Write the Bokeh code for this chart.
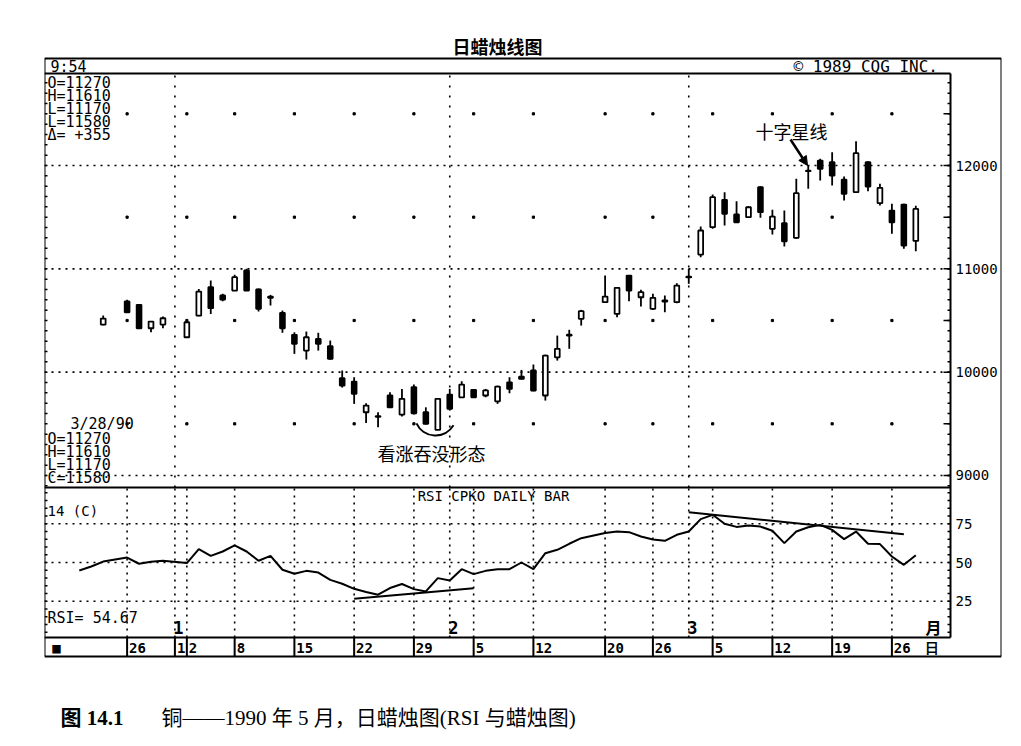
import numpy as np
from bokeh.plotting import figure
from bokeh.models import (Range1d, FixedTicker, Label, Arrow, NormalHead, ColumnDataSource)
from bokeh.embed import file_html
from bokeh.resources import INLINE

# ---------------------------------------------------------------- data
dates = [
    "1989-12-22", "1989-12-26", "1989-12-27", "1989-12-28", "1989-12-29",
    "1990-01-02", "1990-01-03", "1990-01-04", "1990-01-05",
    "1990-01-08", "1990-01-09", "1990-01-10", "1990-01-11", "1990-01-12",
    "1990-01-15", "1990-01-16", "1990-01-17", "1990-01-18", "1990-01-19",
    "1990-01-22", "1990-01-23", "1990-01-24", "1990-01-25", "1990-01-26",
    "1990-01-29", "1990-01-30", "1990-01-31", "1990-02-01", "1990-02-02",
    "1990-02-05", "1990-02-06", "1990-02-07", "1990-02-08", "1990-02-09",
    "1990-02-12", "1990-02-13", "1990-02-14", "1990-02-15", "1990-02-16",
    "1990-02-20", "1990-02-21", "1990-02-22", "1990-02-23",
    "1990-02-26", "1990-02-27", "1990-02-28", "1990-03-01", "1990-03-02",
    "1990-03-05", "1990-03-06", "1990-03-07", "1990-03-08", "1990-03-09",
    "1990-03-12", "1990-03-13", "1990-03-14", "1990-03-15", "1990-03-16",
    "1990-03-19", "1990-03-20", "1990-03-21", "1990-03-22", "1990-03-23",
    "1990-03-26", "1990-03-27", "1990-03-28",
]
opens = [
    10461, 10684, 10652, 10425, 10461,
    10338, 10548, 10822, 10742,
    10790, 10984, 10800, 10732, 10574,
    10361, 10209, 10322, 10251, 9941,
    9909, 9612, 9575, 9774, 9590,
    9854, 9612, 9442, 9783, 9757,
    9829, 9774, 9718, 9902, 9957,
    10016, 9774, 10144, 10355, 10516,
    10677, 10564, 10935, 10725,
    10613, 10682, 10677, 10918, 11138,
    11403, 11668, 11526, 11500, 11790,
    11387, 11441, 11300, 11945, 12048,
    12032, 11862, 11742, 12032, 11635,
    11564, 11622, 11270,
]
highs = [
    10548, 10700, 10660, 10495, 10538,
    10490, 10806, 10887, 10758,
    10942, 11000, 10810, 10748, 10596,
    10386, 10393, 10381, 10306, 10016,
    9951, 9699, 9612, 9806, 9838,
    9880, 9660, 9745, 9838, 9912,
    9835, 9838, 9870, 9951, 10022,
    10074, 10170, 10354, 10410, 10603,
    10935, 10820, 10940, 10797,
    10758, 10742, 10861, 11000, 11410,
    11719, 11742, 11655, 11605, 11800,
    11571, 11564, 11871, 12000, 12065,
    12129, 11894, 12235, 12042, 11823,
    11629, 11630, 11610,
]
lows = [
    10455, 10575, 10420, 10386, 10425,
    10330, 10541, 10564, 10686,
    10785, 10785, 10587, 10645, 10381,
    10177, 10122, 10209, 10120, 9851,
    9693, 9509, 9467, 9654, 9570,
    9590, 9493, 9440, 9628, 9751,
    9750, 9757, 9693, 9796, 9930,
    9815, 9725, 10112, 10226, 10451,
    10670, 10532, 10686, 10635,
    10603, 10580, 10667, 10855, 11112,
    11387, 11419, 11445, 11495, 11494,
    11332, 11216, 11290, 11774, 11855,
    11806, 11661, 11740, 11751, 11613,
    11339, 11195, 11170,
]
closes = [
    10519, 10580, 10425, 10490, 10522,
    10483, 10780, 10619, 10703,
    10919, 10790, 10613, 10720, 10425,
    10274, 10338, 10274, 10129, 9870,
    9790, 9677, 9568, 9660, 9742,
    9602, 9500, 9742, 9645, 9880,
    9757, 9823, 9861, 9838, 9935,
    9822, 10161, 10226, 10362, 10590,
    10732, 10816, 10790, 10774,
    10719, 10694, 10838, 10925, 11371,
    11693, 11532, 11451, 11596, 11548,
    11506, 11267, 11732, 11950, 11968,
    11903, 11726, 12119, 11797, 11784,
    11451, 11225, 11580,
]

rsi_dates = ["1989-12-20", "1989-12-21"] + dates
rsi_values = [
    44.8, 47.4,
    50.6, 53.2, 49.2, 50.5, 51.1,
    49.6, 58.6, 54.3, 57.1,
    61.0, 57.1, 51.1, 54.3, 45.3,
    42.7, 44.6, 43.5, 38.8, 36.3,
    33.0, 31.0, 29.2, 33.5, 36.1,
    32.8, 31.3, 39.9, 38.4, 45.7,
    42.5, 44.6, 45.7, 45.7, 50.0,
    45.7, 56.0, 58.2, 62.1, 65.7,
    69.0, 70.0, 69.6, 66.8,
    64.8, 64.0, 67.9, 70.0, 78.0,
    80.8, 75.0, 73.0, 73.9, 73.2,
    70.5, 62.5, 70.0, 72.8, 74.3,
    71.1, 65.1, 70.0, 62.1, 61.9,
    53.9, 48.5, 54.67,
]

support_dates = ["1990-01-22", "1990-02-05"]
support_values = [26.6, 33.3]
resist_dates = ["1990-03-01", "1990-03-27"]
resist_values = [82.5, 68.2]

week_dates = ["1989-12-26", "1990-01-01", "1990-01-02", "1990-01-08", "1990-01-15",
              "1990-01-22", "1990-01-29", "1990-02-05", "1990-02-12", "1990-02-20",
              "1990-02-26", "1990-03-05", "1990-03-12", "1990-03-19", "1990-03-26"]
week_labels = ["26", "1", "2", "8", "15", "22", "29", "5", "12", "20",
               "26", "5", "12", "19", "26"]
month_dates = ["1990-01-01", "1990-02-01", "1990-03-01"]
month_labels = ["1", "2", "3"]

price_labels = [9000, 10000, 11000, 12000]
price_half_levels = [9500, 10500, 11500, 12500]
rsi_labels = [25, 50, 75]

# ---------------------------------------------------------------- layout helpers (canvas px)
MONO = "DejaVu Sans Mono"
CJK = "Noto Sans CJK SC"
SERIF_CJK = "Liberation Serif, Noto Sans CJK SC"

CANVAS_W = 1008
FRAME_L, FRAME_R, FRAME_T, FRAME_B = 44, 1001, 30, 735      # bokeh frame
BOX_T, BOX_B = 58, 656                                       # printed outer box
PLOT_R, HEAD_B, DATE_T, SPLIT = 950, 73, 637, 487            # inner lines
X0_PX, DX_PX = 102.7, 11.95
P_REF, P_REF_PX, P_PX = 12000.0, 165.0, 0.103333
R_REF, R_REF_PX, R_PX = 50.0, 562.0, 1.548


def X(px):
    return (px - X0_PX) / DX_PX


def PY(py):
    return P_REF - (py - P_REF_PX) / P_PX


def RY(py):
    return R_REF - (py - R_REF_PX) / R_PX


base = np.datetime64(dates[0])


def day_x(ds):
    return np.busday_count(base, np.array(ds, dtype="datetime64[D]")).astype(float)


# ---------------------------------------------------------------- figure
p = figure(frame_width=FRAME_R - FRAME_L, frame_height=FRAME_B - FRAME_T,
           x_range=Range1d(X(FRAME_L), X(FRAME_R)),
           y_range=Range1d(PY(FRAME_B), PY(FRAME_T)), y_axis_location="right",
           output_backend="svg", toolbar_location=None,
           min_border_left=FRAME_L, min_border_right=CANVAS_W - FRAME_R,
           min_border_top=FRAME_T, min_border_bottom=0,
           background_fill_color="white", border_fill_color="white")
p.extra_y_ranges = {"rsi": Range1d(RY(FRAME_B), RY(FRAME_T))}
p.outline_line_color = None
p.xgrid.visible = False
p.ygrid.visible = False

# ---- right axis: labels only (price + RSI), drawn inside the printed box
ry_rng = p.extra_y_ranges["rsi"]


def r2p(r):
    y0, y1 = p.y_range.start, p.y_range.end
    return y0 + (r - ry_rng.start) * (y1 - y0) / (ry_rng.end - ry_rng.start)


yt = [round(float(v), 3) for v in price_labels] + [round(float(r2p(r)), 3) for r in rsi_labels]
yo = {round(float(v), 3): str(v) for v in price_labels}
yo.update({round(float(r2p(r)), 3): str(r) for r in rsi_labels})
ya = p.yaxis[0]
ya.ticker = FixedTicker(ticks=yt, minor_ticks=[])
ya.major_label_overrides = yo
ya.major_tick_in = 0
ya.major_tick_out = 0
ya.minor_tick_in = 0
ya.minor_tick_out = 0
ya.axis_line_color = None
ya.major_label_standoff = 955 - FRAME_R
ya.major_label_text_font = MONO
ya.major_label_text_font_size = "14px"
ya.major_label_text_color = "black"

# ---- date row: labels only
wx = day_x(week_dates)
label_pos = [round(float(x + (2 + len(t) * 8.4 / 2) / DX_PX), 3) for x, t in zip(wx, week_labels)]
sq_pos, ri_pos = round(X(56), 3), round(X(932), 3)
xo = {lp: t for lp, t in zip(label_pos, week_labels)}
xo[sq_pos] = "■"
xo[ri_pos] = "日"
xa = p.xaxis[0]
xa.ticker = FixedTicker(ticks=label_pos + [sq_pos, ri_pos], minor_ticks=[])
xa.major_label_overrides = xo
xa.major_tick_in = 0
xa.major_tick_out = 0
xa.minor_tick_in = 0
xa.minor_tick_out = 0
xa.axis_line_color = None
xa.major_label_standoff = 639 - FRAME_B
xa.major_label_text_font = MONO
xa.major_label_text_font_style = "bold"
xa.major_label_text_font_size = "14px"
xa.major_label_text_color = "black"

# ---- printed box and inner panel lines
hl = [(FRAME_L, FRAME_R, BOX_T), (FRAME_L, FRAME_R, BOX_B), (FRAME_L, PLOT_R, HEAD_B),
      (FRAME_L, PLOT_R, DATE_T), (FRAME_L, PLOT_R, SPLIT)]
vl = [(FRAME_L, BOX_T, BOX_B), (FRAME_R, BOX_T, BOX_B), (PLOT_R, HEAD_B, DATE_T)]
p.segment(x0=[X(a) for a, b, y in hl], y0=[PY(y) for a, b, y in hl],
          x1=[X(b) for a, b, y in hl], y1=[PY(y) for a, b, y in hl],
          line_color="black", line_width=2)
p.segment(x0=[X(x) for x, a, b in vl], y0=[PY(a) for x, a, b in vl],
          x1=[X(x) for x, a, b in vl], y1=[PY(b) for x, a, b in vl],
          line_color="black", line_width=2)

# ---- dotted grid lines
xl, xr = X(FRAME_L), X(PLOT_R)
p.segment(x0=[xl] * 4, y0=price_labels, x1=[xr] * 4, y1=price_labels,
          line_color="black", line_width=1.6, line_dash="2 5")
p.segment(x0=[xl] * 3, y0=rsi_labels, x1=[xr] * 3, y1=rsi_labels, y_range_name="rsi",
          line_color="black", line_width=1.6, line_dash="2 5")
mx = day_x(month_dates)
p.segment(x0=mx, y0=[PY(SPLIT)] * 3, x1=mx, y1=[PY(HEAD_B)] * 3,
          line_color="black", line_width=1.6, line_dash="2 8")
rsi_vx = np.concatenate([wx, day_x(["1990-02-01", "1990-03-01"])])
n = len(rsi_vx)
p.segment(x0=rsi_vx, y0=[RY(DATE_T)] * n, x1=rsi_vx, y1=[RY(SPLIT)] * n,
          y_range_name="rsi", line_color="black", line_width=1.6, line_dash="2 5")
dot_weeks = [x for x, d in zip(wx, week_dates) if d not in month_dates]
gx, gy = np.meshgrid(dot_weeks, price_half_levels)
p.scatter(gx.ravel(), gy.ravel(), marker="square", size=2.2, color="black")

# ---- date row separators
p.segment(x0=wx, y0=[PY(DATE_T)] * len(wx), x1=wx, y1=[PY(BOX_B)] * len(wx),
          line_color="black", line_width=2)

# ---- tick marks on the inner borders
pt_minor = np.arange(8900, 12900, 100)
rt_minor = np.arange(5, 100, 5)
t3, t7 = 3 / DX_PX, 7 / DX_PX
for x_edge, sgn in ((X(PLOT_R), -1), (X(FRAME_L), 1)):
    p.segment(x0=[x_edge] * len(pt_minor), y0=pt_minor,
              x1=[x_edge + sgn * t3] * len(pt_minor), y1=pt_minor,
              line_color="black", line_width=1.5)
    p.segment(x0=[x_edge] * len(rt_minor), y0=rt_minor,
              x1=[x_edge + sgn * t3] * len(rt_minor), y1=rt_minor,
              y_range_name="rsi", line_color="black", line_width=1.5)
p.segment(x0=[X(PLOT_R)] * 8, y0=price_labels + price_half_levels,
          x1=[X(PLOT_R) - t7] * 8, y1=price_labels + price_half_levels,
          line_color="black", line_width=1.5)

# ---- candles
cx = day_x(dates)
o = np.array(opens, float)
c = np.array(closes, float)
src = ColumnDataSource(dict(
    x=cx, high=highs, low=lows,
    top=np.maximum(o, c), bottom=np.minimum(o, c),
    fill=["white" if cc >= oo else "black" for oo, cc in zip(o, c)],
))
p.segment(x0="x", y0="high", x1="x", y1="low", source=src, line_color="black", line_width=1.8)
p.vbar(x="x", width=0.4, top="top", bottom="bottom", source=src,
       fill_color="fill", line_color="black", line_width=1.8)

# ---- RSI
p.line(day_x(rsi_dates), rsi_values, y_range_name="rsi", line_color="black", line_width=2)
p.line(day_x(support_dates), support_values, y_range_name="rsi", line_color="black", line_width=2)
p.line(day_x(resist_dates), resist_values, y_range_name="rsi", line_color="black", line_width=2)


# ---- texts
def txt(text, px, py, size=15, font=MONO, align="left", style="normal"):
    p.add_layout(Label(x=X(px), y=PY(py), text=text, text_align=align,
                       text_baseline="middle", text_font=font,
                       text_font_size=f"{size}px", text_font_style=style,
                       text_color="black"))


txt("日蜡烛线图", 497, 45, 18, CJK, "center", "bold")
txt("9:54", 50, 66, 15)
txt("© 1989 CQG INC.", 793, 66, 16)
for i, s in enumerate(["O=11270", "H=11610", "L=11170", "L=11580", "Δ= +355"]):
    txt(s, 47, 82 + 13 * i, 15)
txt("3/28/90", 70, 423, 15)
for i, s in enumerate(["O=11270", "H=11610", "L=11170", "C=11580"]):
    txt(s, 47, 438 + 13 * i, 15)
txt("RSI CPKO DAILY BAR", 493, 495, 14, MONO, "center")
txt("14 (C)", 47, 510, 14)
txt("RSI= 54.67", 47, 617, 15)
for d, lab in zip(month_dates, month_labels):
    p.add_layout(Label(x=float(day_x([d])[0]) + 0.3, y=PY(627), text=lab, text_align="center",
                       text_baseline="middle", text_font=MONO, text_font_size="17px",
                       text_font_style="bold", text_color="black"))
txt("月", 933, 626, 16, CJK, "center", "bold")
txt("十字星线", 791, 130, 18, CJK, "center")
txt("看涨吞没形态", 431, 452, 18, CJK, "center")
txt("图 14.1", 60, 717, 21, SERIF_CJK, "left", "bold")
txt("铜——1990 年 5 月，日蜡烛图(RSI 与蜡烛图)", 161, 717, 21, SERIF_CJK, "left")

p.add_layout(Arrow(end=NormalHead(size=9, fill_color="black", line_color="black"),
                   x_start=X(790), y_start=PY(139), x_end=X(807), y_end=PY(165),
                   line_color="black", line_width=2.5))
p.arc(x=[X(435)], y=[PY(414)], radius=21, radius_units="screen",
      start_angle=np.deg2rad(205), end_angle=np.deg2rad(329), direction="anticlock",
      line_color="black", line_width=2)

open("out.html", "w").write(file_html(p, INLINE))
